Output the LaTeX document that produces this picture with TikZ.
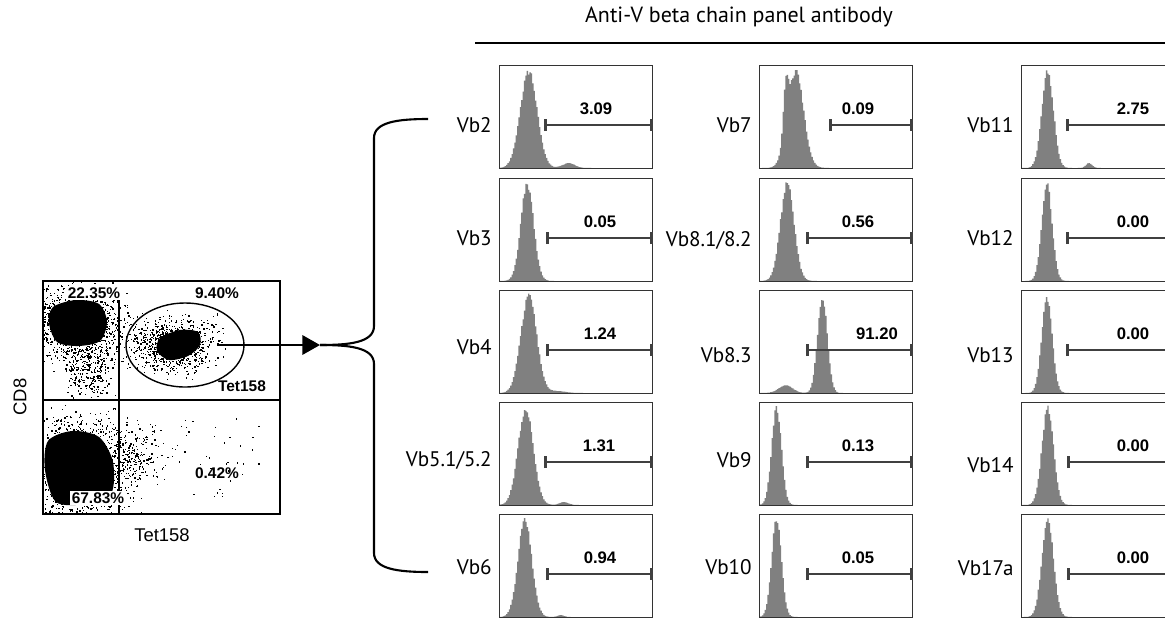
\documentclass[tikz,border=0pt]{standalone}
\usepackage{fontspec}
\setmainfont{Liberation Sans}
\newfontfamily\labfont{PT Sans}
\usepackage{tikz}
\usetikzlibrary{arrows.meta, positioning, shapes.geometric, calc}

\begin{document}
\begin{tikzpicture}[
      x=0.02cm, y=-0.02cm,
      hbox/.style={draw=black!80, line width=0.75pt, minimum width=3.06cm, minimum height=2.06cm, inner sep=0pt, anchor=north west},
      vlab/.style={font=\labfont\fontsize{12}{14}\selectfont, anchor=east, inner sep=0pt},
      val/.style={font=\bfseries\fontsize{9.5}{11}\selectfont, inner sep=0pt},
      gate/.style={draw=black!75, line width=1.5pt, {Bar[width=7pt,line width=1.6pt]}-{Bar[width=7pt,line width=1.6pt]}},
      histfill/.style={fill=black!50},
      pct/.style={font=\bfseries\fontsize{8.8}{10}\selectfont, inner sep=0pt},
      axlab/.style={font=\fontsize{10.5}{12}\selectfont, inner sep=0pt},
      brace/.style={line width=1.2pt}
    ]
      \useasboundingbox (0,0) rectangle (1165,619);

      % title and rule
      \node[font=\labfont\fontsize{12.5}{14}\selectfont] (title) at (739,17) {Anti-V beta chain panel antibody};
      \coordinate (tl) at (475,43);
      \coordinate (tr) at (1165,43);
      \draw[line width=1.1pt] (tl) -- (tr);

      % dot plot
      \node[draw, line width=1.1pt, minimum width=4.74cm, minimum height=4.66cm, inner sep=0pt, anchor=north west] (fplot) at (42,280) {};
      \begin{scope}
        \clip (43,281) rectangle (278,512);
        \pgfmathsetseed{11}
        \fill plot[smooth cycle] coordinates {(53,307) (76,300) (99,304) (107,322) (100,341) (78,346) (57,342) (49,323)};
        \fill plot[smooth cycle] coordinates {(48,441) (72,431) (99,437) (113,462) (111,494) (85,504) (56,502) (45,470)};
        \fill plot[smooth cycle] coordinates {(160,338) (180,330) (198,332) (200,345) (188,356) (169,360) (157,351)};
        \foreach \i in {1,...,1300} {\fill ({77+46*(rnd+rnd+rnd-1.5)},{323+34*(rnd+rnd+rnd-1.5)}) rectangle ++(1.3,1.3);}
        \foreach \i in {1,...,260} {\fill ({88+28*(rnd+rnd-1)},{370+30*(rnd+rnd-1)}) rectangle ++(1.3,1.3);}
        \foreach \i in {1,...,1400} {\fill ({78+48*(rnd+rnd+rnd-1.5)},{468+48*(rnd+rnd+rnd-1.5)}) rectangle ++(1.3,1.3);}
        \foreach \i in {1,...,220} {\fill ({130+36*(rnd+rnd-1)},{455+40*(rnd+rnd-1)}) rectangle ++(1.3,1.3);}
        \foreach \i in {1,...,700} {\fill ({176+38*(rnd+rnd+rnd-1.5)},{345+26*(rnd+rnd+rnd-1.5)}) rectangle ++(1.3,1.3);}
        \foreach \i in {1,...,180} {\fill ({152+50*(rnd+rnd-1)},{342+32*(rnd+rnd-1)}) rectangle ++(1.3,1.3);}
        \foreach \i in {1,...,45} {\fill ({160+100*rnd},{418+80*rnd}) rectangle ++(1.3,1.3);}
      \end{scope}
      \coordinate (qx) at (119,300);
      \coordinate (qy) at (42,400);
      \draw[line width=0.7pt] (qx) -- (qx |- fplot.south);
      \draw[line width=0.7pt] (qy) -- (qy -| fplot.east);
      \node[draw, ellipse, line width=0.8pt, minimum width=2.36cm, minimum height=1.68cm] (tetgate) at (185,345) {};
      \node[pct, fill=white, inner sep=1pt] (p1) at (94,293) {22.35\%};
      \node[pct] (p2) at (217,293) {9.40\%};
      \node[pct] (gname) at (242,386) {Tet158};
      \node[pct] (p3) at (217,473) {0.42\%};
      \node[pct, fill=white, inner sep=1pt] (p4) at (98,498) {67.83\%};
      \node[axlab, rotate=90] (ylab) at (20,397) {CD8};
      \node[axlab] (xlab) at (162,535) {Tet158};

      % arrow and brace
      \coordinate (astart) at (217,345);
      \coordinate (tip) at (320,345);
      \coordinate (btop) at (428,119);
      \coordinate (bbot) at (428,572);
      \draw[line width=1.2pt, -{Triangle[length=10pt,width=11pt]}] (astart) -- (tip);
      \draw[brace] (tip) .. controls (348,345) and (374,343) .. (374,326) -- (374,138) .. controls (374,122) and (398,119) .. (btop);
      \draw[brace] (tip) .. controls (348,345) and (374,347) .. (374,364) -- (374,553) .. controls (374,569) and (398,572) .. (bbot);

      % histogram panels
      \foreach \nm/\bx/\by/\lab/\val/\gx/\vx/\ly/\pk/\sg/\pkb/\sgb/\hb in {
        v2/499/65/Vb2/3.09/544/596/125/0.19/0.055/0.45/0.04/0.05,
        v3/499/178/Vb3/0.05/546/600/238/0.18/0.042/0.40/0.04/0.0,
        v4/499/290/Vb4/1.24/546/600/347/0.19/0.052/0.38/0.05/0.02,
        v5/499/402/{Vb5.1/5.2}/1.31/544/599/460/0.17/0.05/0.42/0.03/0.03,
        v6/499/514/Vb6/0.94/546/600/567/0.165/0.045/0.40/0.02/0.02,
        v7/759/65/Vb7/0.09/829/858/125/0.235/0.052/0.17/0.016/0.45,
        v81/759/178/{Vb8.1/8.2}/0.56/806/858/240/0.18/0.045/0.35/0.04/0.0,
        v83/759/290/Vb8.3/91.20/806/877/355/0.41/0.032/0.17/0.045/0.08,
        v9/759/402/Vb9/0.13/806/858/460/0.11/0.032/0.3/0.04/0.0,
        v10/759/514/Vb10/0.05/806/858/567/0.11/0.032/0.3/0.04/0.0,
        v11/1021/65/Vb11/2.75/1066/1133/125/0.17/0.038/0.44/0.02/0.05,
        v12/1021/178/Vb12/0.00/1066/1133/238/0.165/0.034/0.3/0.04/0.0,
        v13/1021/290/Vb13/0.00/1066/1133/355/0.165/0.034/0.3/0.04/0.0,
        v14/1021/402/Vb14/0.00/1067/1133/465/0.17/0.038/0.3/0.04/0.0,
        v17/1021/514/Vb17a/0.00/1067/1133/568/0.17/0.038/0.3/0.04/0.0}
      {
        \begin{scope}[shift={(\bx,\by+103)}]
          \fill[histfill] (1,0) -- plot[const plot, domain=0.01:0.99, samples=110]
            ({\x*153}, {-100*(0.93+0.07*rnd)*min(1,exp(max(-12,-((\x-\pk)^2)/(2*\sg*\sg)))+\hb*exp(max(-12,-((\x-\pkb)^2)/(2*\sgb*\sgb))))}) -- (152,0) -- cycle;
        \end{scope}
        \node[hbox] (\nm) at (\bx,\by) {};
        \node[vlab] (l\nm) at (\bx-7,\ly) {\lab};
        \node[val] (n\nm) at (\vx,\by+44) {\val};
        \coordinate (g\nm) at (\gx,\by+60);
        \draw[gate] (g\nm) -- (g\nm -| \nm.east);
      }
    \end{tikzpicture}
\end{document}
